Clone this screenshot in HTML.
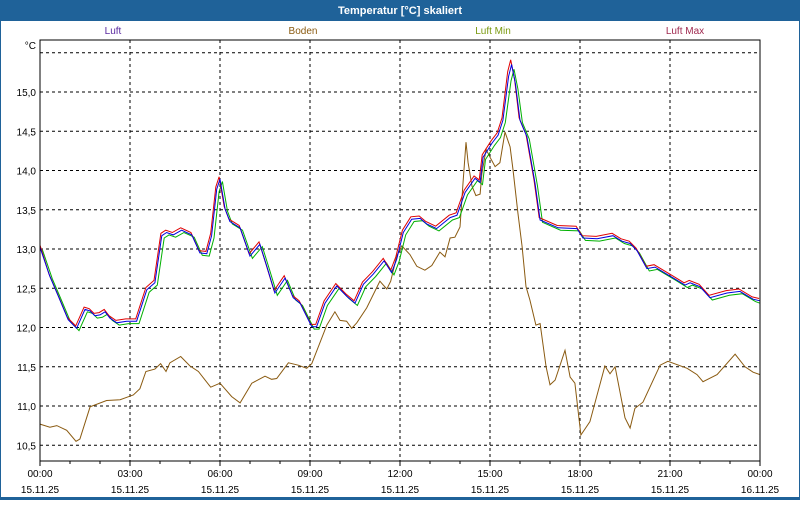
<!DOCTYPE html>
<html><head><meta charset="utf-8"><style>
body{margin:0;width:800px;height:500px;overflow:hidden;background:#fff;font-family:"Liberation Sans",sans-serif}
</style></head><body>
<svg id="s" width="800" height="500" xmlns="http://www.w3.org/2000/svg" font-family="Liberation Sans, sans-serif" font-size="10">
<rect x="0" y="0" width="800" height="500" fill="#fff"/>
<rect x="0" y="0" width="800" height="21" fill="#1f6299"/>
<rect x="0" y="0" width="1" height="500" fill="#1f6299"/>
<rect x="799" y="0" width="1" height="500" fill="#1f6299"/>
<rect x="0" y="497" width="800" height="3" fill="#1f6299"/>
<text x="400" y="14" text-anchor="middle" fill="#fff" font-weight="bold" font-size="11">Temperatur [°C] skaliert</text>
<text x="113" y="34" text-anchor="middle" fill="#5a2aa0">Luft</text>
<text x="303" y="34" text-anchor="middle" fill="#8a5a10">Boden</text>
<text x="493" y="34" text-anchor="middle" fill="#7a9a10">Luft Min</text>
<text x="685" y="34" text-anchor="middle" fill="#a02a50">Luft Max</text>
<text x="36" y="49" text-anchor="end" fill="#000">°C</text>
<g id="g"></g>
</svg>
<script>
var g=document.getElementById('g'),h='';
function X(t){return 40+t*30}function Y(v){return 92+(15-v)*78.5}
for(var v=10.5;v<=15.51;v+=0.5){var y=Y(v);h+='<line x1="40" x2="760" y1="'+y+'" y2="'+y+'" stroke="#000" stroke-dasharray="3,3"/>';if(v<15.4)h+='<text x="36" y="'+(y+4)+'" text-anchor="end">'+v.toFixed(1).replace('.',',')+'</text>';}
for(var t=3;t<24;t+=3){h+='<line x1="'+X(t)+'" x2="'+X(t)+'" y1="40" y2="461" stroke="#000" stroke-dasharray="3,3"/>';}
for(var t=0;t<=24;t++){h+='<line x1="'+X(t)+'" x2="'+X(t)+'" y1="461" y2="'+(t%3?464:466)+'" stroke="#000"/>';}
for(var t=0;t<=24;t+=3){var lb=(t==24?'00':('0'+t).slice(-2))+':00';h+='<text x="'+X(t)+'" y="477" text-anchor="middle">'+lb+'</text><text x="'+X(t)+'" y="493" text-anchor="middle">'+(t==24?'16.11.25':'15.11.25')+'</text>';}
var L=[[0,13.02],[0.33,12.65],[0.61,12.4],[0.94,12.1],[1.22,11.99],[1.5,12.23],[1.67,12.21],[1.83,12.15],[2,12.16],[2.17,12.2],[2.33,12.12],[2.56,12.06],[2.89,12.08],[3.22,12.08],[3.56,12.48],[3.83,12.57],[4.06,13.17],[4.22,13.21],[4.44,13.18],[4.72,13.24],[5.06,13.18],[5.33,12.95],[5.56,12.94],[5.72,13.17],[5.89,13.76],[6,13.89],[6.17,13.51],[6.33,13.35],[6.67,13.27],[7,12.91],[7.33,13.06],[7.56,12.78],[7.83,12.44],[8.17,12.63],[8.44,12.38],[8.67,12.31],[9.06,12.01],[9.22,12.01],[9.5,12.31],[9.89,12.53],[10.22,12.4],[10.5,12.31],[10.78,12.55],[11.11,12.68],[11.47,12.85],[11.72,12.7],[11.89,12.87],[12.11,13.21],[12.39,13.38],[12.67,13.39],[12.89,13.32],[13.22,13.26],[13.67,13.4],[13.9,13.43],[14.17,13.72],[14.5,13.9],[14.67,13.85],[14.77,14.17],[15.07,14.35],[15.27,14.45],[15.43,14.64],[15.62,15.2],[15.72,15.35],[15.85,15.1],[16,14.64],[16.23,14.43],[16.5,13.84],[16.67,13.37],[17.27,13.27],[17.9,13.26],[18.1,13.14],[18.57,13.13],[19.1,13.17],[19.4,13.1],[19.67,13.07],[19.9,12.98],[20.23,12.75],[20.5,12.77],[21.07,12.64],[21.5,12.54],[21.67,12.57],[22,12.52],[22.33,12.38],[22.9,12.44],[23.33,12.46],[23.77,12.36],[24,12.34]];
var B=[[0,10.77],[0.33,10.73],[0.56,10.75],[0.89,10.69],[1.2,10.55],[1.33,10.58],[1.67,10.99],[2.22,11.07],[2.67,11.08],[3.11,11.14],[3.33,11.22],[3.53,11.44],[3.83,11.47],[4.02,11.54],[4.2,11.44],[4.33,11.55],[4.69,11.63],[5,11.51],[5.28,11.44],[5.69,11.24],[6,11.29],[6.39,11.12],[6.67,11.04],[7.06,11.29],[7.5,11.38],[7.72,11.34],[7.89,11.35],[8.28,11.55],[8.61,11.52],[8.89,11.48],[9.06,11.54],[9.56,12.03],[9.83,12.2],[10,12.09],[10.22,12.08],[10.39,11.99],[10.56,12.06],[10.89,12.25],[11.33,12.59],[11.56,12.49],[11.69,12.59],[11.89,12.91],[12.06,13.04],[12.33,12.93],[12.56,12.78],[12.83,12.73],[13.06,12.79],[13.33,12.96],[13.5,12.9],[13.67,13.14],[13.83,13.15],[14,13.28],[14.1,13.84],[14.2,14.36],[14.27,14.1],[14.4,13.8],[14.53,13.68],[14.67,13.7],[14.73,13.96],[14.87,14.27],[15,14.17],[15.17,14.05],[15.33,14.1],[15.5,14.49],[15.67,14.3],[15.77,14.0],[15.93,13.46],[16.07,13.03],[16.2,12.52],[16.33,12.35],[16.53,12.03],[16.67,12.05],[16.87,11.5],[17,11.27],[17.17,11.33],[17.5,11.71],[17.67,11.37],[17.83,11.29],[18.03,10.63],[18.33,10.8],[18.83,11.51],[19,11.41],[19.17,11.5],[19.5,10.85],[19.67,10.72],[19.83,10.97],[20.1,11.05],[20.67,11.52],[20.93,11.57],[21.57,11.48],[21.9,11.4],[22.1,11.31],[22.57,11.4],[23.17,11.66],[23.5,11.5],[23.77,11.43],[24,11.4]];
function P(a,dt,dv,c){var s='';a.forEach(function(p,i){var t=Math.min(24,Math.max(0,p[0]+dt));var e=(p[1]>15)?dv*2:dv;s+=(i?'L':'M')+X(t).toFixed(1)+','+Y(p[1]+e).toFixed(1);});return '<path d="'+s+'" fill="none" stroke="'+c+'" stroke-width="1"/>';}
h+=P(B,0,0,'#8a5a10');
h+=P(L,0.08,-0.03,'#00b000');
h+=P(L,-0.03,0.03,'#e00000');
h+=P(L,0,0,'#0000e0');
h+='<rect x="40" y="40" width="720" height="421" fill="none" stroke="#000"/>';
g.innerHTML=h;
</script>
</body></html>
